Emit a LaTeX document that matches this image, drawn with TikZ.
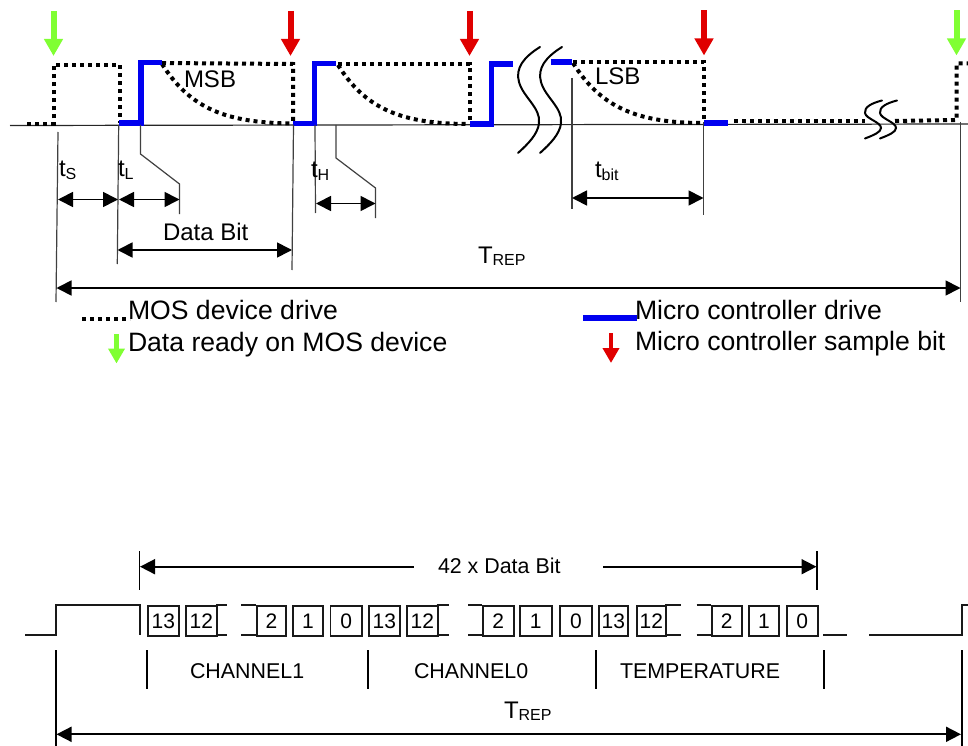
\documentclass[tikz,border=0pt]{standalone}
\usepackage{fontspec}
\setmainfont{Liberation Sans}
\usetikzlibrary{arrows.meta}
\newcommand{\fsz}[1]{\fontsize{#1pt}{#1pt}\selectfont}
\newcommand{\subtxt}[2]{#1\raisebox{-2.6pt}{\fsz{16}#2}}
\definecolor{bluedrive}{RGB}{0,0,240}
\definecolor{redarrow}{RGB}{224,0,0}
\definecolor{greenarrow}{RGB}{128,255,51}
\tikzset{
  txt/.style={anchor=base west,inner sep=0pt,outer sep=0pt,font=\fsz{24}},
  txtleg/.style={anchor=base west,inner sep=0pt,outer sep=0pt,font=\fsz{26.6}},
  txtsm/.style={anchor=base west,inner sep=0pt,outer sep=0pt,font=\fsz{21.4}},
  axisline/.style={line width=1.2pt,color=black!85},
  thinline/.style={line width=1.2pt,color=black!75},
  mosdrive/.style={line width=4pt,dash pattern=on 4pt off 4pt,black},
  mcdrive/.style={line width=5.2pt,bluedrive,line join=miter},
  breakline/.style={line width=2pt,line cap=round},
  dim/.style={line width=1.7pt,{Triangle[length=15pt,width=15pt]}-{Triangle[length=15pt,width=15pt]}},
  dimleft/.style={line width=1.7pt,{Triangle[length=15pt,width=15pt]}-},
  dimright/.style={line width=1.7pt,-{Triangle[length=15pt,width=15pt]}},
  sig/.style={line width=1.8pt,black!90},
  tick/.style={line width=1.8pt,black},
  bigarrow/.style={line width=6pt,-{Triangle[length=17pt,width=18pt]}},
  smallarrow/.style={line width=4.5pt,-{Triangle[length=15pt,width=16pt]}},
  bitbox/.style={draw,line width=1.8pt,black!90,text=black,inner sep=0pt,anchor=north west,minimum height=30pt,font=\fsz{21}},
}
\begin{document}
\begin{tikzpicture}[x=1pt,y=-1pt]
\useasboundingbox (0,0) rectangle (968,746);
% baseline
\draw[axisline] (10,125.5) -- (968,124);
% MOS drive
\draw[mosdrive] (27,124) -- (53.5,124) -- (53.5,65) -- (119.5,65) -- (119.5,123);
\draw[mosdrive] (162,63) -- (293,64) -- (293,123);
\draw[mosdrive] (162,64) .. controls (190,108) and (225,123) .. (293,123.5);
\draw[mosdrive] (338,64) -- (469.5,64) -- (469.5,123);
\draw[mosdrive] (338,65) .. controls (365,108) and (400,124) .. (469,124);
\draw[mosdrive] (573,62) -- (703.5,62) -- (703.5,122);
\draw[mosdrive] (573,63) .. controls (600,106) and (635,123) .. (703,123);
\draw[mosdrive] (734,121) -- (865,121);
\draw[mosdrive] (895,121) -- (956.5,120) -- (956.5,63.5) -- (968,63.5);
% Micro controller drive
\draw[mcdrive] (119,123) -- (141,123) -- (141,62.5) -- (162,62.5);
\draw[mcdrive] (293,123.5) -- (314.5,123.5) -- (314.5,63.5) -- (336,63.5);
\draw[mcdrive] (470,124) -- (491.5,124) -- (491.5,64) -- (513,64);
\draw[mcdrive] (551,62) -- (572,62);
\draw[mcdrive] (704,123) -- (728,123);
% break marks
\foreach \dx in {0,22}{
  \draw[breakline] (540+\dx,47) .. controls (524+\dx,57) and (515+\dx,68) .. (519+\dx,82)
     .. controls (523+\dx,97) and (541+\dx,108) .. (539+\dx,123)
     .. controls (538+\dx,134) and (528+\dx,144) .. (518+\dx,153);
}
\foreach \dx in {0,15}{
  \draw[breakline] (882+\dx,100.5) .. controls (872+\dx,103) and (864+\dx,107) .. (865+\dx,113)
     .. controls (866+\dx,119) and (881+\dx,122) .. (881+\dx,128)
     .. controls (881+\dx,132) and (874+\dx,135) .. (865+\dx,138.5);
}
% big arrows
\draw[bigarrow,greenarrow] (53.5,11) -- (53.5,56);
\draw[bigarrow,redarrow] (290.5,11) -- (290.5,56);
\draw[bigarrow,redarrow] (469.5,11) -- (469.5,56);
\draw[bigarrow,redarrow] (704,10.5) -- (704,55.5);
\draw[bigarrow,greenarrow] (956.5,10.5) -- (956.5,55.5);
% extension lines
\draw[thinline] (58,132) -- (56,302);
\draw[thinline] (118.7,125) -- (117.3,264);
\draw[thinline] (293.5,125) -- (292,270);
\draw[thinline] (140.5,125) -- (140.5,154) -- (179.5,184) -- (179.5,214);
\draw[thinline] (315,125) -- (315.5,213);
\draw[thinline] (336,125) -- (336,158) -- (375.5,188) -- (375.5,218);
\draw[thinline] (572,78) -- (572,209);
\draw[thinline] (703.5,122) -- (703.5,215);
\draw[thinline] (960.7,122) -- (960.7,302);
% dimension arrows
\draw[dim] (58,199.5) -- (118,199.5);
\draw[dim] (119,199.5) -- (179.5,199.5);
\draw[dim] (316,203.5) -- (375.5,203.5);
\draw[dim] (572,198) -- (703.5,198);
\draw[dim] (117.5,250) -- (292,250);
\draw[dim] (56.5,288) -- (960.5,288);
% waveform and dimension labels
\node[txt] (msb) at (184,88) {MSB};
\node[txt] (lsb) at (595,85) {LSB};
\node[txt] (ts) at (59,177) {\subtxt{t}{S}};
\node[txt] (tl) at (118,177) {\subtxt{t}{L}};
\node[txt] (th) at (311,178) {\subtxt{t}{H}};
\node[txt] (tbit) at (595,178) {\subtxt{t}{bit}};
\node[txt] (databit) at (163,240) {Data Bit};
\node[txt] (trep1) at (478,263) {\subtxt{T}{REP}};
% legend
\draw[mosdrive] (82,319) -- (130,319);
\draw[mcdrive] (583,318) -- (637,318);
\draw[smallarrow,greenarrow] (116.5,334) -- (116.5,363.5);
\draw[smallarrow,redarrow] (611,333) -- (611,363);
\node[txtleg] (leg1) at (128,319) {MOS device drive};
\node[txtleg] (leg2) at (128,351) {Data ready on MOS device};
\node[txtleg] (leg3) at (635,319) {Micro controller drive};
\node[txtleg] (leg4) at (635,350) {Micro controller sample bit};
% lower diagram
\draw[tick] (139.5,551) -- (139.5,590);
\draw[tick] (816.7,551) -- (816.7,590);
\node[txtsm] (n42) at (438,573) {42 x Data Bit};
\draw[dimleft] (140,566.7) -- (414,566.7);
\draw[dimright] (603,566.7) -- (816.5,566.7);
\draw[sig] (25,635) -- (56,635) -- (56,604.7) -- (140,604.7) -- (140,635);
\foreach \xa/\xb/\blab/\bname in {147/178/13/a,185/216/12/b,256/285/2/c,292/322/1/d,329.5/361/0/e,
   368/399/13/f,406/436.7/12/g,482/512.7/2/h,519/550.7/1/i,559/591/0/j,
   597.7/627/13/k,636/665/12/l,711/740.7/2/m,748/778/1/n,785.7/816.7/0/o}{
  \pgfmathsetmacro{\bwid}{\xb-\xa}
  \node[bitbox,minimum width=\bwid pt] (box\bname) at (\xa,605) {\blab};
}
\foreach \xa/\xb/\xc/\xd in {216/227/241/255.5,436.7/449/468/482,665/680.7/696.7/711}{
  \draw[sig] (\xa,605) -- (\xb,605);
  \draw[sig] (\xa,635) -- (\xb,635);
  \draw[sig] (\xc,605) -- (\xd,605);
  \draw[sig] (\xc,635) -- (\xd,635);
}
\draw[sig] (823,635) -- (847,635);
\draw[sig] (869,635) -- (961.7,635) -- (961.7,604.7) -- (968,604.7);
\foreach \x in {147,367.7,596,824}{
  \draw[tick] (\x,650) -- (\x,688.5);
}
\draw[tick] (56,650) -- (56,746);
\draw[tick] (961.7,650) -- (961.7,746);
\node[txtsm] (ch1) at (190,678) {CHANNEL1};
\node[txtsm] (ch0) at (414,678) {CHANNEL0};
\node[txtsm] (temp) at (620,678) {TEMPERATURE};
\node[txt] (trep2) at (504,718) {\subtxt{T}{REP}};
\draw[dim] (56.5,734.3) -- (961,734.3);
\end{tikzpicture}
\end{document}
